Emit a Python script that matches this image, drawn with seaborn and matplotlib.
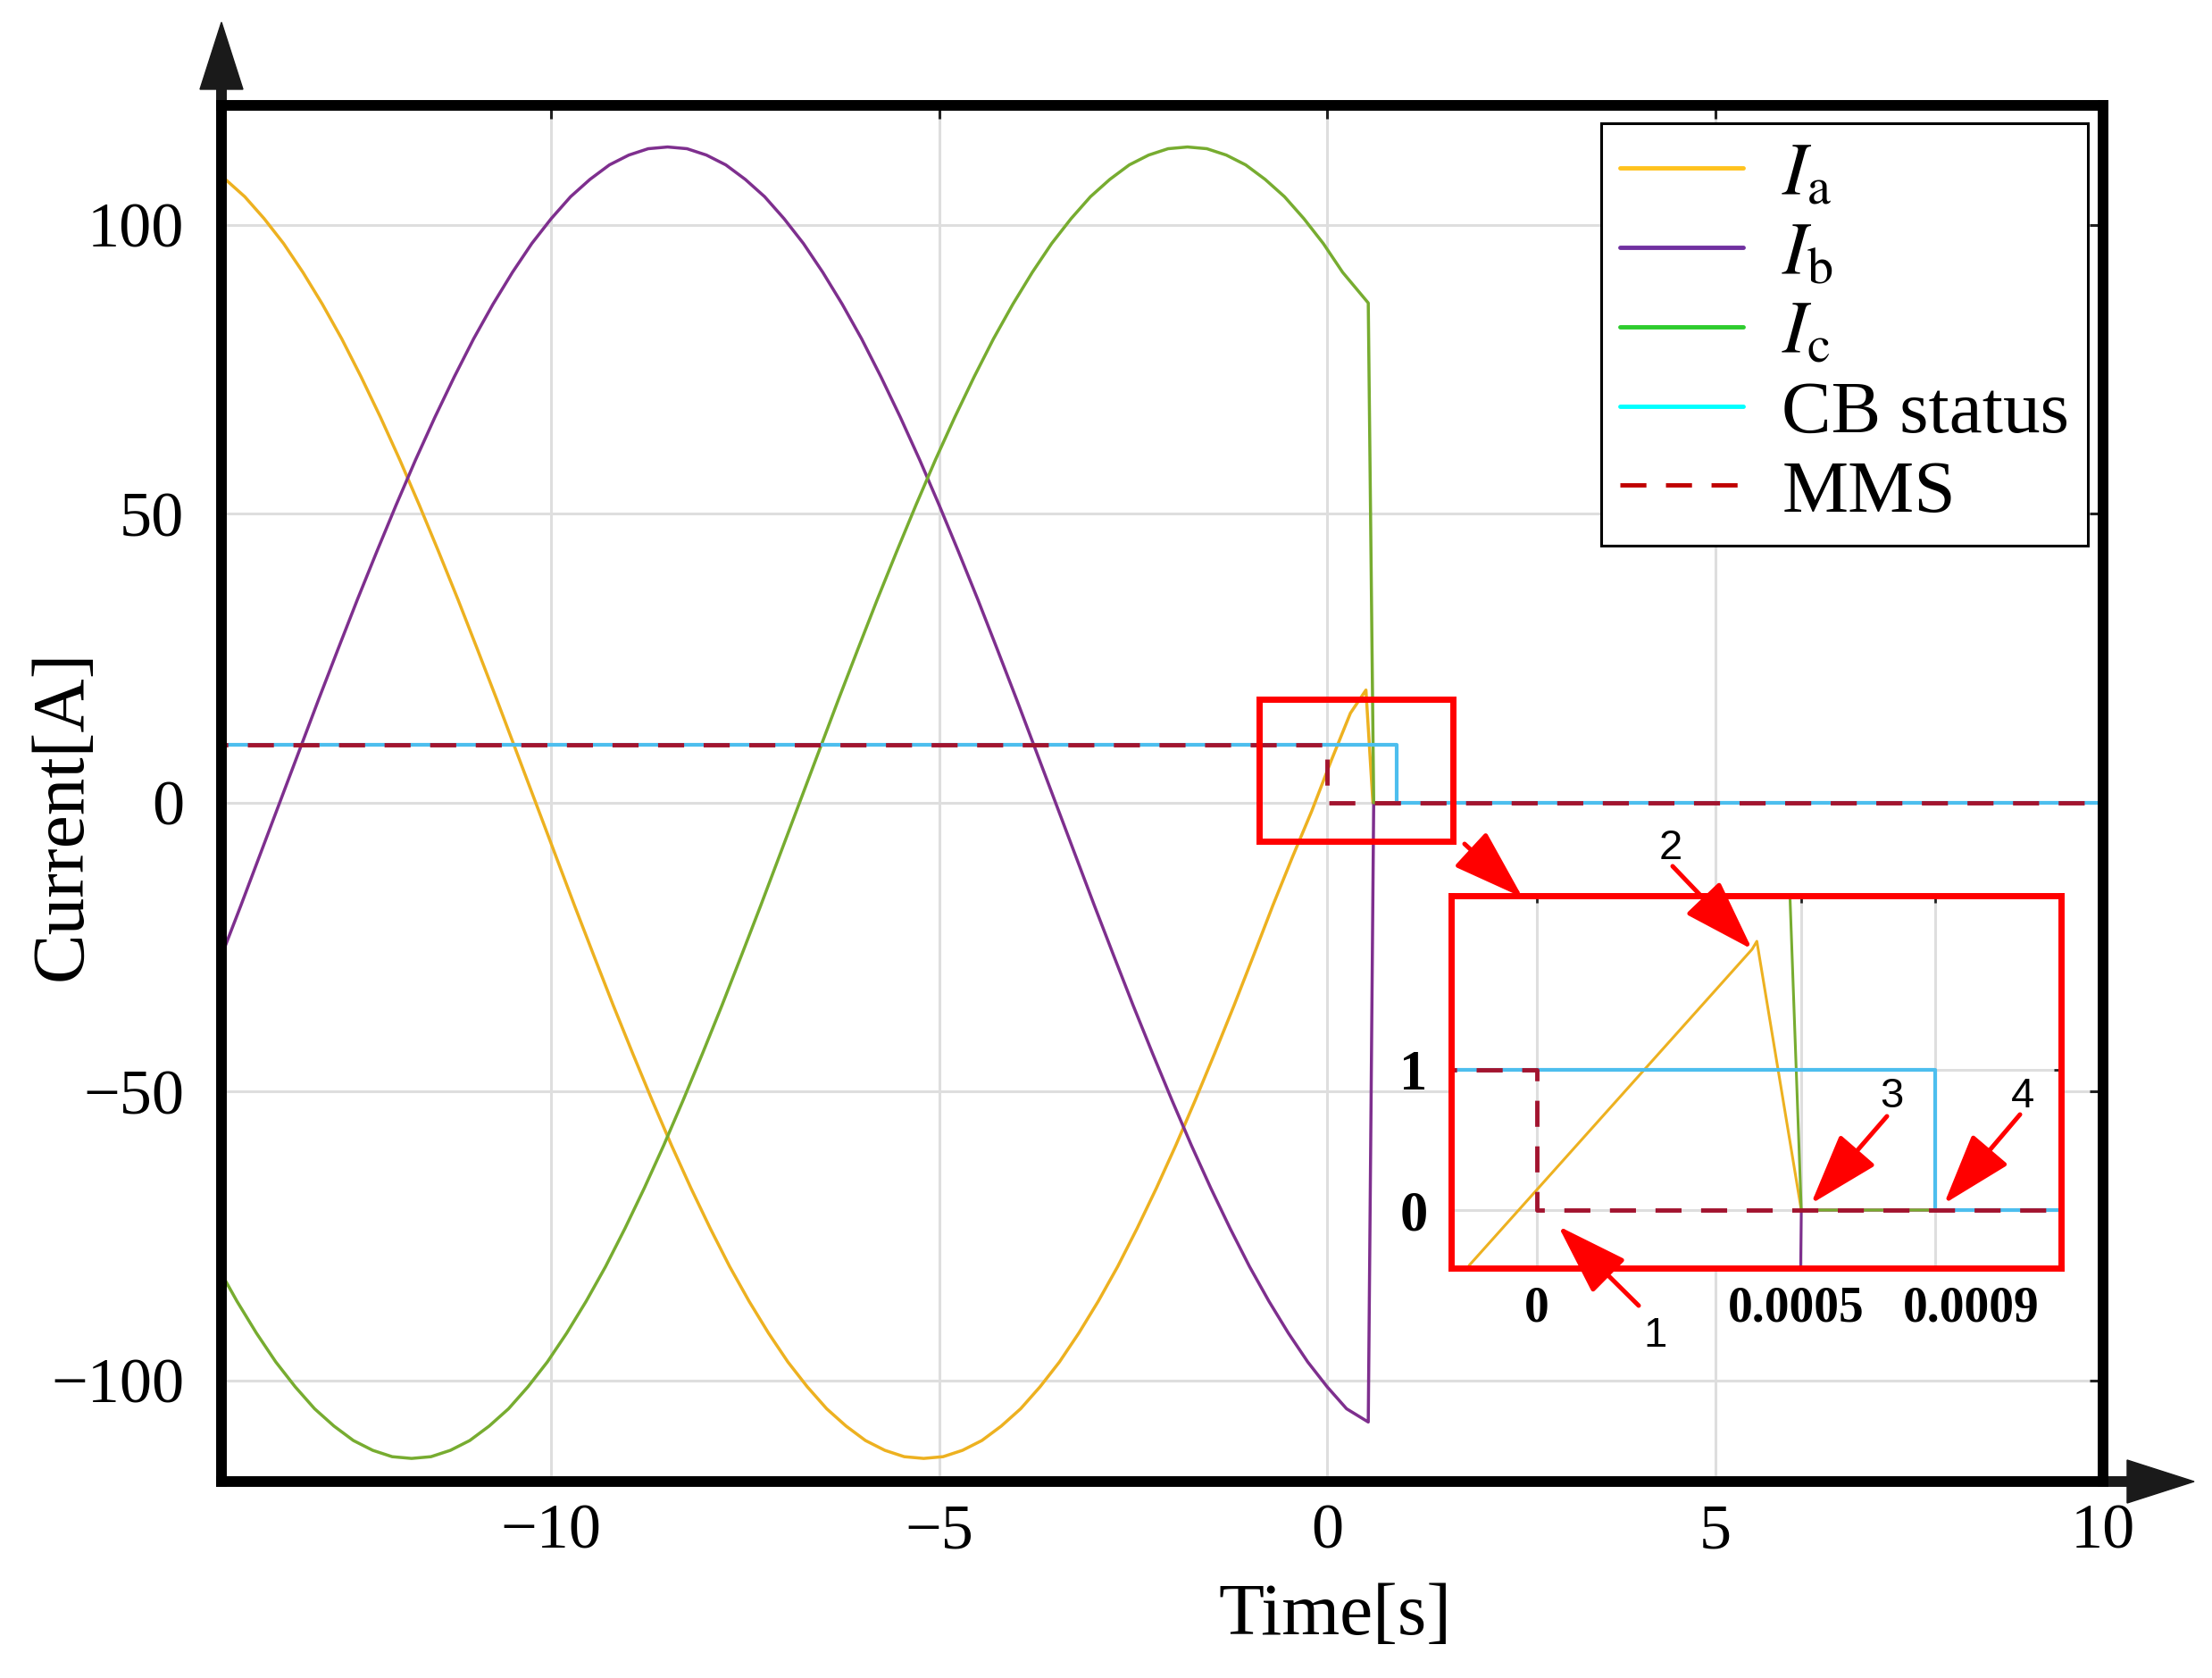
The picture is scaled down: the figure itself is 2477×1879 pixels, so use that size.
import numpy as np
import pandas as pd
import matplotlib
matplotlib.use('Agg')
import matplotlib.pyplot as plt
import seaborn as sns
from matplotlib.lines import Line2D
from matplotlib.patches import Rectangle, Polygon
from matplotlib.transforms import ScaledTranslation

# ---- main traces (time [s], current [A]) ----
t_a = [-14.7, -14.45, -14.2, -13.95, -13.7, -13.45, -13.2, -12.95, -12.7, -12.45,
       -12.2, -11.95, -11.7, -11.45, -11.2, -10.95, -10.7, -10.45, -10.2, -9.95,
       -9.7, -9.45, -9.2, -8.95, -8.7, -8.45, -8.2, -7.95, -7.7, -7.45,
       -7.2, -6.95, -6.7, -6.45, -6.2, -5.95, -5.7, -5.45, -5.2, -4.95,
       -4.7, -4.45, -4.2, -3.95, -3.7, -3.45, -3.2, -2.95, -2.7, -2.45,
       -2.2, -1.95, -1.7, -1.45, -1.2, -0.95, -0.7, -0.45, -0.2, 0.05,
       0.3, 0.5, 0.59, 10.0]
i_a = [112.1, 110.4, 107.9, 104.9, 101.1, 96.8, 91.8, 86.3, 80.3, 73.7,
       66.7, 59.3, 51.5, 43.4, 35.1, 26.5, 17.8, 8.9, 0.0, -8.9,
       -17.8, -26.5, -35.1, -43.4, -51.5, -59.3, -66.7, -73.7, -80.3, -86.3,
       -91.8, -96.8, -101.1, -104.9, -107.9, -110.4, -112.1, -113.2, -113.5, -113.2,
       -112.1, -110.4, -107.9, -104.9, -101.1, -96.8, -91.8, -86.3, -80.3, -73.7,
       -66.7, -59.3, -51.5, -43.4, -35.1, -26.5, -17.8, -9.5, -1.5, 7.2,
       15.5, 19.5, 0.0, 0.0]

t_b = [-14.5, -14.25, -14.0, -13.75, -13.5, -13.25, -13.0, -12.75, -12.5, -12.25,
       -12.0, -11.75, -11.5, -11.25, -11.0, -10.75, -10.5, -10.25, -10.0, -9.75,
       -9.5, -9.25, -9.0, -8.75, -8.5, -8.25, -8.0, -7.75, -7.5, -7.25,
       -7.0, -6.75, -6.5, -6.25, -6.0, -5.75, -5.5, -5.25, -5.0, -4.75,
       -4.5, -4.25, -4.0, -3.75, -3.5, -3.25, -3.0, -2.75, -2.5, -2.25,
       -2.0, -1.75, -1.5, -1.25, -1.0, -0.75, -0.5, -0.25, 0.0, 0.25,
       0.53, 0.6, 10.0]
i_b = [-35.1, -26.5, -17.8, -8.9, 0.0, 8.9, 17.8, 26.5, 35.1, 43.4,
       51.5, 59.3, 66.7, 73.7, 80.3, 86.3, 91.8, 96.8, 101.1, 104.9,
       107.9, 110.4, 112.1, 113.2, 113.5, 113.2, 112.1, 110.4, 107.9, 104.9,
       101.1, 96.8, 91.8, 86.3, 80.3, 73.7, 66.7, 59.3, 51.5, 43.4,
       35.1, 26.5, 17.8, 8.9, 0.0, -8.9, -17.8, -26.5, -35.1, -43.4,
       -51.5, -59.3, -66.7, -73.7, -80.3, -86.3, -91.8, -96.8, -101.1, -104.9,
       -107.2, 0.0, 0.0]

t_c = [-14.3, -14.05, -13.8, -13.55, -13.3, -13.05, -12.8, -12.55, -12.3, -12.05,
       -11.8, -11.55, -11.3, -11.05, -10.8, -10.55, -10.3, -10.05, -9.8, -9.55,
       -9.3, -9.05, -8.8, -8.55, -8.3, -8.05, -7.8, -7.55, -7.3, -7.05,
       -6.8, -6.55, -6.3, -6.05, -5.8, -5.55, -5.3, -5.05, -4.8, -4.55,
       -4.3, -4.05, -3.8, -3.55, -3.3, -3.05, -2.8, -2.55, -2.3, -2.05,
       -1.8, -1.55, -1.3, -1.05, -0.8, -0.55, -0.3, -0.05, 0.2, 0.53,
       0.6, 10.0]
i_c = [-80.3, -86.3, -91.8, -96.8, -101.1, -104.9, -107.9, -110.4, -112.1, -113.2,
       -113.5, -113.2, -112.1, -110.4, -107.9, -104.9, -101.1, -96.8, -91.8, -86.3,
       -80.3, -73.7, -66.7, -59.3, -51.5, -43.4, -35.1, -26.5, -17.8, -8.9,
       0.0, 8.9, 17.8, 26.5, 35.1, 43.4, 51.5, 59.3, 66.7, 73.7,
       80.3, 86.3, 91.8, 96.8, 101.1, 104.9, 107.9, 110.4, 112.1, 113.2,
       113.5, 113.2, 112.1, 110.4, 107.9, 104.9, 101.1, 96.8, 91.8, 86.5,
       0.0, 0.0]

t_cb = [-14.5, 0.9, 0.9, 10.0]
cb = [10, 10, 0, 0]
t_mms = [-14.5, 0.0, 0.0, 10.0]
mms = [10, 10, 0, 0]

# ---- zoomed inset (time [s], per-unit) ----
z_t_a = [-0.000128, 0.000407, 0.000416, 0.0005, 0.0013]
z_i_a = [-0.395, 1.86, 1.917, 0.0, 0.0]
z_t_b = [0.0004985, 0.0005, 0.0013]
z_i_b = [-0.5, 0.0, 0.0]
z_t_c = [0.000478, 0.0005, 0.0013]
z_i_c = [2.3, 0.0, 0.0]
z_t_cb = [-0.0002, 0.0009, 0.0009, 0.0013]
z_cb = [1, 1, 0, 0]
z_t_mms = [-0.0002, 0.0, 0.0, 0.0013]
z_mms = [1, 1, 0, 0]

labels = [r'$I_\mathrm{a}$', r'$I_\mathrm{b}$', r'$I_\mathrm{c}$', 'CB status', 'MMS']
line_colors = ['#EDB120', '#7E2F8E', '#77AC30', '#4DBEEE', '#A2142F']
legend_colors = ['#FFC21E', '#7030A0', '#2ECC2E', '#00FFFF', '#C00000']

sns.set_theme(style='white')
plt.rcParams['font.family'] = ['Liberation Serif', 'DejaVu Serif']
plt.rcParams['mathtext.fontset'] = 'stix'
plt.rcParams['text.color'] = 'black'
plt.rcParams['axes.labelcolor'] = 'black'
plt.rcParams['xtick.color'] = 'black'
plt.rcParams['ytick.color'] = 'black'

W, H = 2477, 1879
fig = plt.figure(figsize=(W / 100, H / 100), dpi=100)
ax = fig.add_axes([248 / W, 1 - 1659 / H, 2107 / W, 1541 / H])

DASH = (0, (6, 4.5))


def trace(axis, t, y, color, lw, ls='-'):
    df = pd.DataFrame({'t': t, 'y': y})
    sns.lineplot(data=df, x='t', y='y', ax=axis, color=color, linewidth=lw,
                 linestyle=ls, estimator=None, sort=False, legend=False)


trace(ax, t_a, i_a, line_colors[0], 2.5)
trace(ax, t_b, i_b, line_colors[1], 2.5)
trace(ax, t_c, i_c, line_colors[2], 2.5)
trace(ax, t_cb, cb, line_colors[3], 3.0)
trace(ax, t_mms, mms, line_colors[4], 3.5, DASH)

ax.set_xlim(-14.25, 10)
ax.set_ylim(-117.5, 120.7)
ax.set_xticks([-10, -5, 0, 5, 10])
ax.set_yticks([-100, -50, 0, 50, 100])
ax.grid(True, color='#DEDEDE', linewidth=2.2)
ax.tick_params(direction='in', length=11, width=2.2, color='#222222',
               labelcolor='black', top=True, right=True, labelsize=52)
ax.tick_params(axis='x', pad=18)
ax.tick_params(axis='y', pad=30)
for s in ax.spines.values():
    s.set_linewidth(8.6)
    s.set_color('black')
    s.set_capstyle('projecting')

ax.set_xlabel('Time[s]', fontsize=60, va='center', color='black')
ax.xaxis.set_label_coords(0.592, -0.098)
ax.set_ylabel('Current[A]', fontsize=60, va='center', color='black')
ax.yaxis.set_label_coords(-0.084, 0.484)

# axis arrows
ax.plot([0, 0], [1, 1.013], transform=ax.transAxes, color='k', lw=8.6,
        clip_on=False, solid_capstyle='butt')
ax.add_patch(Polygon([[-0.0114, 1.0117], [0.0114, 1.0117], [0, 1.0604]],
                     closed=True, transform=ax.transAxes, color='k', clip_on=False))
ax.plot([1, 1.013], [0, 0], transform=ax.transAxes, color='k', lw=8.6,
        clip_on=False, solid_capstyle='butt')
ax.add_patch(Polygon([[1.0128, -0.0156], [1.0128, 0.0156], [1.0484, 0]],
                     closed=True, transform=ax.transAxes, color='k', clip_on=False))

# zoom box on main axes
ax.add_patch(Rectangle((-0.875, -6.6), 2.495, 24.5, fill=False,
                       edgecolor='#FF0000', linewidth=5, zorder=5))

handles = [Line2D([], [], color=legend_colors[0], lw=3.5),
           Line2D([], [], color=legend_colors[1], lw=3.5),
           Line2D([], [], color=legend_colors[2], lw=3.5),
           Line2D([], [], color=legend_colors[3], lw=3.5),
           Line2D([], [], color=legend_colors[4], lw=3.5, linestyle=DASH)]
leg = ax.legend(handles, labels, loc='upper right', bbox_to_anchor=(0.992, 0.987),
                fontsize=60, frameon=True, fancybox=False, edgecolor='black',
                framealpha=1, borderaxespad=0, handlelength=1.66,
                handletextpad=0.52, labelspacing=0.15, borderpad=0.25)
leg.get_frame().set_linewidth(2.2)
for txt in leg.get_texts():
    txt.set_color('black')

# ---- inset ----
axins = fig.add_axes([1625 / W, 1 - 1420 / H, 683 / W, 417 / H], zorder=10)
axins.set_facecolor('white')


def _fwd(x):
    x = np.asarray(x, dtype=float)
    return np.where(x <= 5e-4, x, 5e-4 + (x - 5e-4) * 0.633)


def _inv(x):
    x = np.asarray(x, dtype=float)
    return np.where(x <= 5e-4, x, 5e-4 + (x - 5e-4) / 0.633)


trace(axins, z_t_a, z_i_a, line_colors[0], 2.2)
trace(axins, z_t_b, z_i_b, line_colors[1], 2.2)
trace(axins, z_t_c, z_i_c, line_colors[2], 2.2)
trace(axins, z_t_cb, z_cb, line_colors[3], 3.0)
trace(axins, z_t_mms, z_mms, line_colors[4], 3.5, DASH)

axins.set_xscale('function', functions=(_fwd, _inv))
axins.set_xlim(-0.000162, 0.001276)
axins.set_ylim(-0.414, 2.242)
axins.set_xticks([0, 0.0005, 0.0009])
axins.set_xticklabels(['0', '0.0005', '0.0009'])
axins.set_yticks([0, 1])
axins.set_yticklabels(['0', '1'])
axins.xaxis.set_minor_locator(matplotlib.ticker.NullLocator())
axins.grid(True, color='#DEDEDE', linewidth=2.2)
axins.tick_params(direction='in', length=6, width=2, color='#222222',
                  labelcolor='black', top=True, right=True)
axins.tick_params(axis='x', pad=14, labelsize=40)
axins.tick_params(axis='y', pad=19, labelsize=45)
for lbl in axins.get_xticklabels() + axins.get_yticklabels():
    lbl.set_fontweight('bold')
xl = axins.get_xticklabels()
xl[1].set_transform(xl[1].get_transform() + ScaledTranslation(-0.06, 0, fig.dpi_scale_trans))
xl[2].set_transform(xl[2].get_transform() + ScaledTranslation(0.40, 0, fig.dpi_scale_trans))
axins.set_xlabel('')
axins.set_ylabel('')
for s in axins.spines.values():
    s.set_linewidth(5)
    s.set_color('#FF0000')
    s.set_capstyle('projecting')


# ---- red call-out arrows (figure pixel positions) ----
def fp(x, y):
    return (x / W, 1 - y / H)


arrow_kw = dict(arrowstyle='-|>,head_length=1.0,head_width=0.33', color='#FF0000',
                lw=3.6, mutation_scale=50, shrinkA=0, shrinkB=0)
callouts = [((1640, 945), (1705, 1005), None, None),
            ((1873, 970), (1962, 1063), '2', (1871, 950)),
            ((2113, 1250), (2028, 1348), '3', (2118, 1228)),
            ((2262, 1248), (2177, 1348), '4', (2265, 1228)),
            ((1835, 1462), (1745, 1373), '1', (1853, 1496))]
for start, end, txt, pos in callouts:
    axins.annotate('', xy=fp(*end), xycoords='figure fraction',
                   xytext=fp(*start), textcoords='figure fraction',
                   arrowprops=arrow_kw, annotation_clip=False)
    if txt:
        fig.text(*fp(*pos), txt, fontsize=34, family='Liberation Sans',
                 ha='center', va='center', zorder=20, color='black')

fig.savefig('out.png', dpi=100)
